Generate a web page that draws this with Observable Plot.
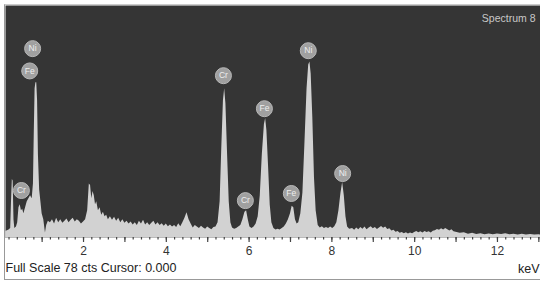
<!DOCTYPE html>
<html><head><meta charset="utf-8">
<script src="https://cdn.jsdelivr.net/npm/d3@7"></script>
<script src="https://cdn.jsdelivr.net/npm/@observablehq/plot@0.6"></script>
<style>
body{margin:0;background:#fff;}
#wrap{position:relative;width:540px;height:281px;overflow:hidden;}
#wrap svg{display:block;}
#border{position:absolute;left:4px;top:4px;width:536px;height:276px;border-left:1px solid #999;border-bottom:1px solid #999;border-top:1px solid #ccc;box-sizing:border-box;pointer-events:none;}
</style></head><body><div id="wrap"><div id="border"></div></div>
<script>
// Spectrum (energy in keV, counts)
const energy = [0.12,0.2,0.24,0.26,0.28,0.30,0.32,0.34,0.38,0.41,0.44,0.47,0.50,0.53,0.56,0.60,0.64,0.68,0.72,0.76,0.79,0.81,0.83,0.85,0.87,0.89,0.91,0.94,0.97,1.00,1.04,1.08,1.11,1.15,1.2,
1.25,1.3,1.35,1.4,1.45,1.5,1.55,1.6,1.65,1.7,1.75,1.8,1.85,1.9,1.95,2.0,2.05,2.1,2.14,2.17,2.2,2.23,2.26,2.29,2.32,2.36,2.4,2.44,2.48,2.52,2.56,2.6,2.65,2.7,2.75,2.8,2.85,2.9,2.95,3.0,
3.05,3.1,3.15,3.2,3.25,3.3,3.35,3.4,3.45,3.5,3.55,3.6,3.65,3.7,3.75,3.8,3.85,3.9,3.95,4.0,4.05,4.1,4.15,4.2,4.25,4.3,4.35,4.4,4.45,4.5,4.55,4.6,4.65,4.7,4.75,4.8,4.85,4.9,4.95,5.0,5.05,5.1,5.15,5.2,
5.25,5.3,5.34,5.38,5.41,5.44,5.48,5.52,5.56,5.6,5.65,5.7,5.75,5.8,5.85,5.9,5.94,5.98,6.02,6.07,6.12,6.17,6.22,6.27,6.32,6.37,6.40,6.43,6.47,6.51,6.55,6.6,6.65,6.7,6.75,6.8,6.85,6.9,6.95,7.0,7.04,7.08,7.12,7.16,7.2,
7.25,7.3,7.35,7.4,7.44,7.47,7.5,7.54,7.58,7.62,7.67,7.72,7.77,7.82,7.87,7.92,7.97,8.02,8.07,8.12,8.17,8.22,8.26,8.3,8.34,8.38,8.43,
8.5,8.55,8.6,8.65,8.7,8.75,8.8,8.85,8.9,8.95,9.0,9.05,9.1,9.15,9.2,9.25,9.3,9.35,9.4,9.45,9.5,9.55,9.6,9.65,9.7,9.75,9.8,9.85,9.9,9.95,10.0,10.05,10.1,10.15,10.2,10.25,10.3,10.35,10.4,10.45,10.5,10.55,10.6,10.65,10.7,10.75,10.8,10.85,10.9,10.95,
11.0,11.1,11.2,11.3,11.4,11.5,11.6,11.7,11.8,11.9,12.0,12.1,12.2,12.3,12.4,12.5,12.6,12.7,12.8,12.9,13.0,13.05];
const counts = [2,2.5,3,12,19.5,19,6,3,3.5,5,10,11,9,9.5,8,10,12,13,14,13,18,35,50,52,52,46,28,16,12,8,6,1.5,4,5.5,5,
6,4.5,6.5,5,6,4.8,5.5,6.2,5,5.8,6.5,5.2,6,5.5,4.5,5.2,6,9,18,17.5,13,15.5,14,11,12,9,10,7.5,8.5,7,7.5,6,7,5.8,6.8,5.5,6.5,5,6,4.8,
5.5,4.5,5.2,4.2,5,4,5.5,4.5,5.8,4.2,5,4,4.8,5.5,4.2,5,4,4.6,3.8,4.5,3.6,4.2,3.5,4,3.4,4.6,3.6,5,6.5,8.3,6,4.5,3.2,4,3.5,3,3.8,3.2,2.8,3.5,3,2.6,3.4,3.5,
5,12,30,46,50,45,28,12,5,3.2,2.8,3,3.5,4,6,8.5,9,6,3.5,3,3.5,4.5,7,14,28,38,40,36,24,11,5,3,2.5,2.8,2.5,3,3.5,4.5,6,8,10.5,10,6,4.5,5,
8,15,32,50,58,59,55,40,20,9,4,3.2,3.6,3,3.4,3,3.5,3,3.6,5,9,15,18.5,14,7,3.5,2.8,
3,2.4,3.2,2.6,3.4,2.8,3.5,2.6,3.2,3.6,2.9,3.4,2.7,3.2,3.7,3.1,3.5,2.7,2.9,2.2,2.4,1.8,2.0,1.4,1.7,1.3,1.6,1.2,1.5,1.3,1.7,2.0,1.6,1.9,1.5,2.0,1.7,1.9,1.5,2.1,2.3,2.7,2.4,2.9,2.5,3.0,2.6,2.2,2.6,1.9,
1.8,1.4,1.6,1.1,1.4,1.0,1.3,0.9,1.2,0.9,1.2,1.0,1.3,0.9,1.1,0.8,1.1,0.8,1.0,0.8,0.9,0.8];

// Element labels (peak energy, label height in counts)
const peakNames = ["Ni","Fe","Cr","Cr","Fe","Ni","Cr","Fe","Ni"];
const peakKeV = [0.77,0.70,0.50,5.38,6.37,7.43,5.91,7.02,8.26];
const peakCounts = [63.5,56,15.8,54.4,43.3,62.8,12.4,14.8,21.5];

const majorTicks = [1,2,3,4,5,6,7,8,9,10,11,12,13];
const tickLabels = ["","2","","4","","6","","8","","10","","12",""];
const minorTicks = d3.range(0.2, 13.05, 0.2);
const fullScale = 78;
const title = "Spectrum 8";
const caption = "Full Scale 78 cts Cursor: 0.000";
const unit = "keV";

const spectrum = energy.map((e, i) => ({e, c: counts[i]}));
const peaks = peakNames.map((n, i) => ({n, e: peakKeV[i], c: peakCounts[i]}));

const chart = Plot.plot({
  width: 540,
  height: 281,
  marginTop: 5,
  marginBottom: 44,
  marginLeft: 5,
  marginRight: 0,
  style: {fontFamily: "'Liberation Sans', Arial, sans-serif", background: "#fff", overflow: "visible"},
  x: {domain: [0.115, 13.04], label: null},
  y: {domain: [0, fullScale], axis: null},
  marks: [
    Plot.frame({fill: "#353535", stroke: null}),
    Plot.areaY(spectrum, {x: "e", y: "c", fill: "#d2d2d2", curve: "linear"}),
    Plot.ruleY([0], {stroke: "#bbb", strokeWidth: 1}),
    Plot.axisX({ticks: minorTicks, tickSize: 2.5, tickFormat: () => "", stroke: "#444", strokeWidth: 1.2, label: null}),
    Plot.axisX({ticks: majorTicks, tickSize: 5, tickPadding: 4, tickFormat: (d) => tickLabels[majorTicks.indexOf(d)], stroke: "#444", strokeWidth: 1.2, fill: "#333", fontSize: 12, label: null}),
    Plot.dot(peaks, {x: "e", y: "c", r: 8, fill: "#a0a0a0", stroke: "#b8b8b8", strokeWidth: 1}),
    Plot.text(peaks, {x: "e", y: "c", text: "n", fill: "#eeeeee", fontSize: 8.5}),
    Plot.text([title], {frameAnchor: "top-right", dx: -5, dy: 9, textAnchor: "end", fill: "#c8c8c8", fontSize: 10.5}),
    Plot.text([caption], {frameAnchor: "bottom-left", dx: 0, dy: 34, textAnchor: "start", fill: "#222", fontSize: 12.5}),
    Plot.text([unit], {frameAnchor: "bottom-right", dx: -1, dy: 35, textAnchor: "end", fill: "#222", fontSize: 12.5})
  ]
});
document.getElementById("wrap").prepend(chart);
</script>
</body></html>
